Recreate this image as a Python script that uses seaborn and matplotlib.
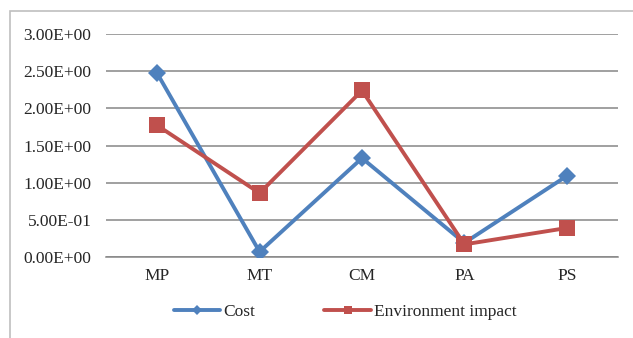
import matplotlib
matplotlib.use("Agg")
import matplotlib.pyplot as plt
import seaborn as sns
import pandas as pd
from matplotlib.patches import Rectangle

categories = ["MP", "MT", "CM", "PA", "PS"]
cost = [2.47, 0.07, 1.33, 0.19, 1.09]
env_impact = [1.77, 0.86, 2.24, 0.17, 0.39]
y_ticks = [0.0, 0.5, 1.0, 1.5, 2.0, 2.5, 3.0]
y_labels = ["0.00E+00", "5.00E-01", "1.00E+00", "1.50E+00", "2.00E+00", "2.50E+00", "3.00E+00"]

sns.set_theme(style="white")
plt.rcParams["font.family"] = ["Liberation Serif", "DejaVu Serif"]

df = pd.DataFrame({
    "pos": list(range(len(categories))) * 2,
    "value": cost + env_impact,
    "series": ["Cost"] * len(categories) + ["Environment impact"] * len(categories),
})

W, H = 633, 338
fig = plt.figure(figsize=(W / 100, H / 100), dpi=100)
ax = fig.add_axes([106 / W, 1 - 257 / H, 512 / W, (257 - 34) / H])

palette = {"Cost": "#4F81BD", "Environment impact": "#C0504D"}
markers = {"Cost": "D", "Environment impact": "s"}
sizes = {"Cost": 9, "Environment impact": 11.5}
for name in ["Cost", "Environment impact"]:
    sub = df[df["series"] == name]
    sns.lineplot(data=sub, x="pos", y="value", ax=ax, color=palette[name],
                 marker=markers[name], markersize=sizes[name], markeredgewidth=0,
                 linewidth=2.8, label=name, zorder=3)

ax.set_xlim(-0.5, len(categories) - 0.5)
ax.set_ylim(0, 3.0)
ax.set_xticks(range(len(categories)))
ax.set_xticklabels(categories, fontsize=12.5)
ax.set_yticks(y_ticks)
ax.set_yticklabels(y_labels, fontsize=12.5)
ax.set_xlabel("")
ax.set_ylabel("")
ax.tick_params(axis="x", length=0, pad=8)
ax.tick_params(axis="y", length=0, pad=10.5)
ax.yaxis.grid(True, color="#868686", linewidth=1.1)
ax.set_axisbelow(True)
for s in ["top", "right", "left"]:
    ax.spines[s].set_visible(False)
ax.spines["bottom"].set_color("#868686")
ax.spines["bottom"].set_linewidth(1.1)

handles, labels = ax.get_legend_handles_labels()
ax.legend(handles, labels, loc="center", bbox_to_anchor=(345 / W, 1 - 312 / H),
          bbox_transform=fig.transFigure, ncol=2, frameon=False, fontsize=12.5,
          handlelength=2.7, handletextpad=0.15, columnspacing=4.0, markerscale=0.55)

# outer chart frame
fig.patches.append(Rectangle((10 / W, -0.1), 1.2, 1 - 11 / H + 0.1,
                             transform=fig.transFigure, fill=False,
                             edgecolor="#BFBFBF", linewidth=1.2))

fig.savefig("out.png", dpi=100)
